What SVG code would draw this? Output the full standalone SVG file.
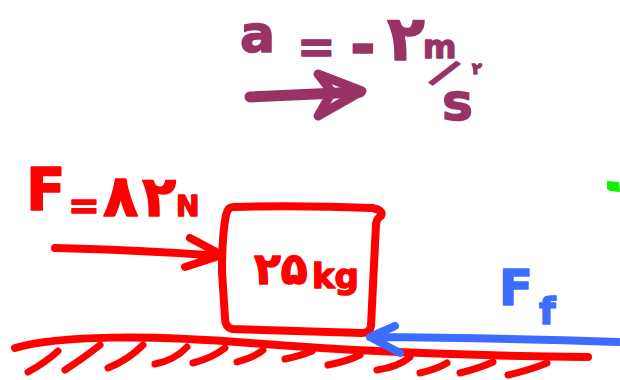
<svg xmlns="http://www.w3.org/2000/svg" width="620" height="380" viewBox="0 0 620 380">
<style>
.red{stroke:#ff0000;fill:none;stroke-linecap:round;stroke-linejoin:round}
.pur{stroke:#993366;fill:none;stroke-linecap:round;stroke-linejoin:round}
.blu{stroke:#3d6cff;fill:none;stroke-linecap:round;stroke-linejoin:round}
.t{font-family:"DejaVu Sans","Noto Sans",sans-serif;font-weight:bold;stroke-linejoin:round}
.tr{fill:#ff0000;stroke:#ff0000;stroke-width:1.5}
.tp{fill:#993366;stroke:#993366;stroke-width:1.5}
.tb{fill:#3d6cff;stroke:#3d6cff;stroke-width:1.5}
</style>
<rect width="620" height="380" fill="#ffffff"/>

<g id="acceleration-label">
<text class="t tp" x="240" y="52" font-size="52">a</text>
<text class="t tp" x="297" y="63" font-size="46">=</text>
<text class="t tp" x="350" y="67" font-size="62">-</text>
<text class="t tp" x="387" y="60" font-size="62">۲</text>
<text class="t tp" x="423" y="58" font-size="32">m</text>
<text class="t tp" x="436" y="86" font-size="40" transform="rotate(35 444 75)">/</text>
<text class="t tp" x="442" y="120" font-size="52">s</text>
<text class="t tp" x="472" y="74" font-size="16">۲</text>
</g>

<g id="force-label">
<text class="t tr" x="26" y="210" font-size="58">F</text>
<text class="t tr" x="68" y="218" font-size="38">=</text>
<text class="t tr" x="103" y="216" font-size="58">۸</text>
<text class="t tr" x="142" y="216" font-size="56">۲</text>
<text class="t tr" x="176" y="216" font-size="28">N</text>
</g>

<g id="block">
<path class="red" stroke-width="8" d="M233,207 Q300,205 372,208 Q384,210 381,216 Q377,218 376,224 L371,326 Q370,333 362,333 L232,329 Q225,327 225,318 L222,272 Q222,235 226,215 Q228,207 233,207 Z"/>
<text class="t tr" x="254" y="284"><tspan font-size="44">۲۵</tspan><tspan x="312" y="288" font-size="34">kg</tspan></text>
</g>

<g id="friction-label">
<text class="t tb" x="499" y="305" font-size="50">F</text>
<text class="t tb" x="539" y="324" font-size="38">f</text>
</g>

<g id="ground">
<path class="red" stroke-width="8" d="M15,348 C60,335 150,335 250,343 S480,356 588,357"/>
<g class="red" stroke-width="7">
<path d="M28,372 Q45,363 58,351"/>
<path d="M65,370 Q85,357 100,345"/>
<path d="M108,368 Q128,360 143,345"/>
<path d="M155,364 Q175,360 187,347"/>
<path d="M193,363 Q212,358 225,348"/>
<path d="M237,362 Q255,357 263,350"/>
<path d="M285,359 Q300,356 312,351"/>
<path d="M328,365 Q348,361 360,355"/>
<path d="M377,370 Q398,367 410,357"/>
<path d="M420,373 Q437,369 447,363"/>
<path d="M460,373 Q480,368 493,362"/>
<path d="M508,375 Q530,370 547,363"/>
</g>
</g>

<g id="mark">
<path d="M607,181 L619,182 L620,192 L610,191 L607,189 Z" fill="#11ee00"/>
</g>

<g id="connectors">
<path class="pur" stroke-width="11" d="M250,97 L360,92"/>
<path class="pur" stroke-width="9" fill="#993366" d="M318,74 L362,91 L318,116 L332,92 Z"/>
<path class="red" stroke-width="8" d="M55,248 Q140,250 222,256 M190,238 L222,255 L185,267"/>
<path class="blu" stroke-width="8" d="M618,342 Q500,338 370,337 M395,326 L370,337 L400,353"/>
</g>
</svg>
